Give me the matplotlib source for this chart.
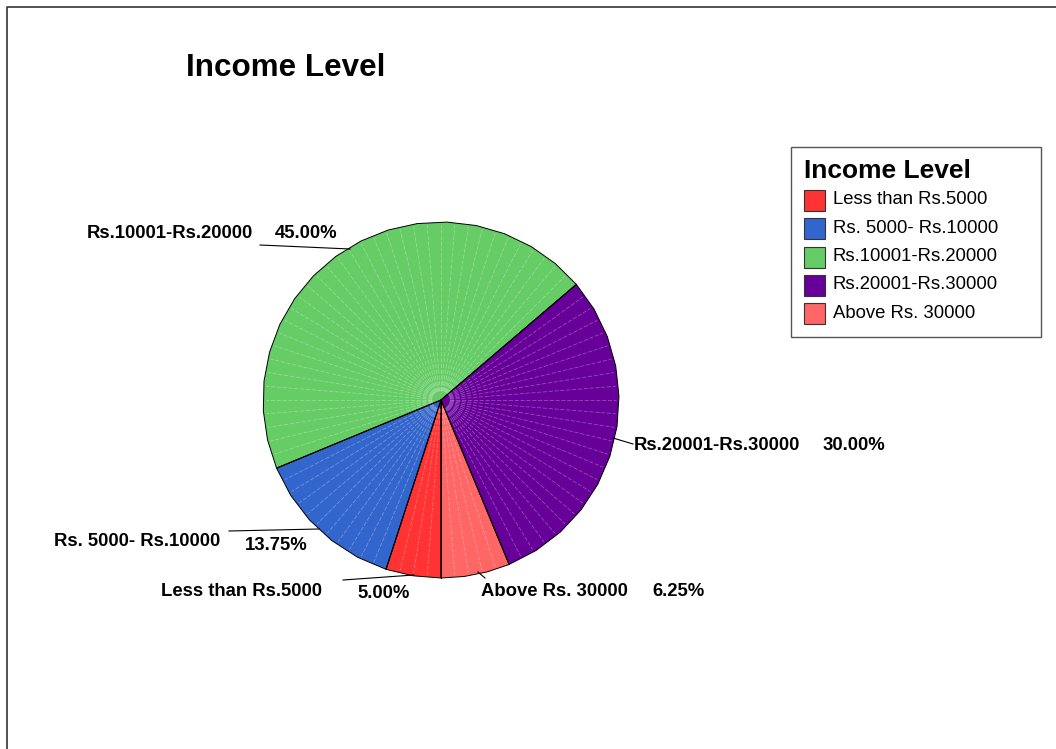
import numpy as np
import matplotlib
matplotlib.use("Agg")
import matplotlib.pyplot as plt
from matplotlib.patches import Polygon, Rectangle

plt.rcParams["font.family"] = ["Liberation Sans", "DejaVu Sans"]

categories = ["Less than Rs.5000", "Rs. 5000- Rs.10000", "Rs.10001-Rs.20000",
              "Rs.20001-Rs.30000", "Above Rs. 30000"]
percents = [5.00, 13.75, 45.00, 30.00, 6.25]
colors = ["#FF3333", "#3366CC", "#66CC66", "#660099", "#FF6666"]

# label anchor (text left x, centre y) and leader line ends, in pixel coords
label_pos = [(161, 592), (54, 542), (87, 233), (634, 445), (481, 591)]
pct_pos = [(357, 593), (245, 545), (275, 233), (823, 445), (652, 591)]
leaders = [((343, 580), (414, 575)), ((229, 531), (319, 529)),
           ((260, 245), (350, 249)), ((633, 444), (613, 438)),
           ((485, 578), (478, 572))]

W, H = 1056, 749
fig = plt.figure(figsize=(W / 100, H / 100), dpi=100)
ax = fig.add_axes([0, 0, 1, 1])
ax.set_xlim(0, W)
ax.set_ylim(H, 0)
ax.set_aspect("equal")
ax.axis("off")

# outer frame (only top and left edges are inside the canvas)
ax.plot([7, 7, W], [H, 7, 7], color="#333333", lw=1.2)

ax.text(186, 68, "Income Level", fontsize=22.6, fontweight="bold", va="center")

# faceted pie: starts at 6 o'clock and runs clockwise on screen
cx, cy, r = 441, 400, 178
start = 90.0  # screen angle in degrees, y axis points down
fracs = np.array(percents) / sum(percents)
for frac, col in zip(fracs, colors):
    span = frac * 360
    n_out = max(2, int(np.ceil(span / 10)))
    th = np.radians(np.linspace(start, start + span, n_out + 1))
    pts = [(cx, cy)] + [(cx + r * np.cos(t), cy + r * np.sin(t)) for t in th]
    ax.add_patch(Polygon(pts, closed=True, facecolor=col, edgecolor="black", lw=0.7, zorder=2))
    # faint dashed facet lines inside the slice
    n_in = max(2, int(np.round(span / 4.5)))
    for t in np.radians(np.linspace(start, start + span, n_in + 1)[1:-1]):
        ax.plot([cx + r * 0.05 * np.cos(t), cx + r * 0.985 * np.cos(t)],
                [cy + r * 0.05 * np.sin(t), cy + r * 0.985 * np.sin(t)],
                color="white", alpha=0.3, lw=0.6, ls=(0, (5, 2)), zorder=3)
    start += span

# slice boundary lines on top
start = 90.0
for frac in fracs:
    t = np.radians(start)
    ax.plot([cx, cx + r * np.cos(t)], [cy, cy + r * np.sin(t)], color="black", lw=0.7, zorder=4)
    start += frac * 360

for cat, pct, lp, pp, (a, b) in zip(categories, percents, label_pos, pct_pos, leaders):
    ax.text(lp[0], lp[1], cat, fontsize=13.3, fontweight="bold", va="center")
    ax.text(pp[0], pp[1], f"{pct:.2f}%", fontsize=13.3, fontweight="bold", va="center")
    ax.plot([a[0], b[0]], [a[1], b[1]], color="black", lw=0.8, zorder=5)

# legend box
ax.add_patch(Rectangle((791, 147), 250, 190, facecolor="white", edgecolor="#555555", lw=1.0))
ax.text(804, 171, "Income Level", fontsize=19, fontweight="bold", va="center")
for i, (cat, col) in enumerate(zip(categories, colors)):
    y = 200 + i * 28.3
    ax.add_patch(Rectangle((804, y - 10), 21, 21, facecolor=col, edgecolor="#333333", lw=0.8))
    ax.text(833, y, cat, fontsize=13.3, va="center")

fig.savefig("out.png", dpi=100)
